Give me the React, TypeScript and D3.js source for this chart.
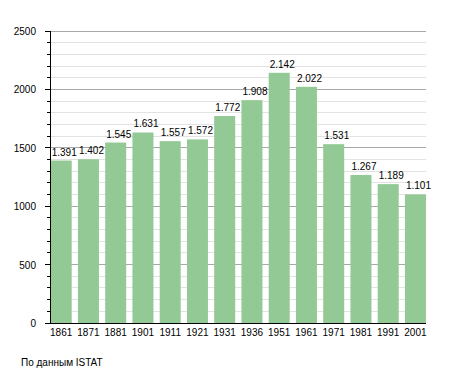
import React from "react";
import * as d3 from "d3";

const years = ["1861","1871","1881","1901","1911","1921","1931","1936","1951","1961","1971","1981","1991","2001"];
const population = [1391,1402,1545,1631,1557,1572,1772,1908,2142,2022,1531,1267,1189,1101];
const majorTicks = [0,500,1000,1500,2000,2500];
const sourceText = "По данным ISTAT";

export default function App() {
  const W = 455, H = 373;
  const x0 = 50, x1 = 426, yTop = 31, yBot = 323;
  const step = 27.25;
  const barW = 21;
  const x = d3.scaleBand<string>().domain(years).range([x0 + 0.7, x0 + 0.7 + step * years.length]).padding(0);
  const y = d3.scaleLinear().domain([0, 2500]).range([yBot, yTop]);
  const minor = d3.range(0, 2501, 100);
  const fmt = (v: number) => d3.format(",")(v).replace(/,/g, ".");
  const font = "'Liberation Sans', Arial, sans-serif";
  return (
    <svg width={W} height={H} style={{ position: "absolute", left: 0, top: 0 }} fontFamily={font}>
      <rect width={W} height={H} fill="#fff" />
      {minor.map(v => (
        <line key={"g" + v} x1={x0} x2={x1} y1={y(v)} y2={y(v)}
          stroke={v % 500 === 0 ? "#a8a8a8" : "#e3e3e3"} strokeWidth={1} shapeRendering="crispEdges" />
      ))}
      {minor.map(v => (
        <line key={"t" + v} x1={v % 500 === 0 ? x0 - 5 : x0 - 3} x2={x0} y1={y(v)} y2={y(v)}
          stroke="#000" strokeWidth={1} shapeRendering="crispEdges" />
      ))}
      {majorTicks.map(v => (
        <text key={"l" + v} x={36} y={y(v) + 4} textAnchor="end" fontSize={10} fill="#000">{v}</text>
      ))}
      {years.map((yr, i) => (
        <g key={yr}>
          <rect x={x(yr)!} y={y(population[i])} width={barW} height={yBot - y(population[i])} fill="#93c994" />
          <text x={x(yr)! + barW / 2 + 3} y={y(population[i]) - 5} textAnchor="middle" fontSize={10} fill="#000">{fmt(population[i])}</text>
          <text x={x(yr)! + barW / 2} y={yBot + 13} textAnchor="middle" fontSize={10} fill="#000">{yr}</text>
        </g>
      ))}
      <line x1={x0} x2={x0} y1={yTop} y2={yBot} stroke="#000" strokeWidth={1} shapeRendering="crispEdges" />
      <line x1={x0} x2={x1} y1={yBot} y2={yBot} stroke="#000" strokeWidth={1} shapeRendering="crispEdges" />
      <text x={21} y={366} fontSize={10} fill="#000">{sourceText}</text>
    </svg>
  );
}
